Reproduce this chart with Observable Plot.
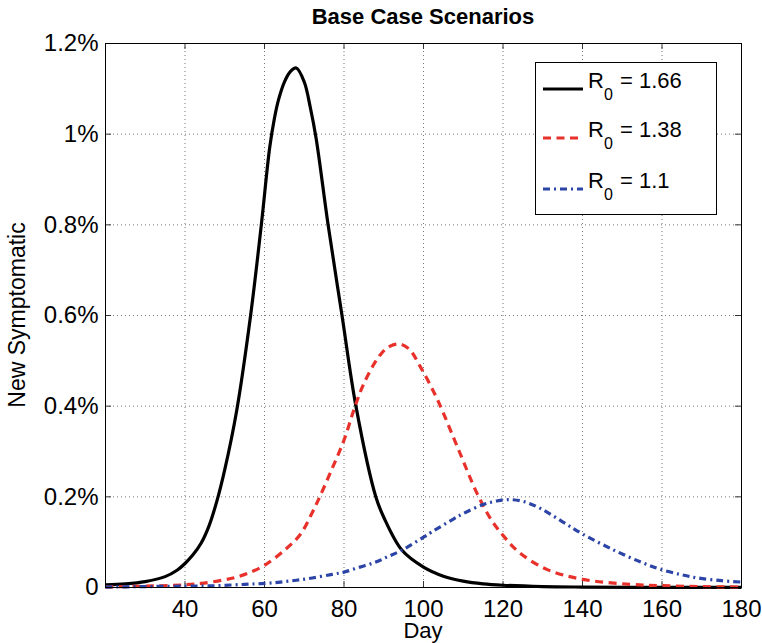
<!DOCTYPE html>
<html><head><meta charset="utf-8">
<script src="https://cdn.jsdelivr.net/npm/d3@7"></script>
<script src="https://cdn.jsdelivr.net/npm/@observablehq/plot@0.6"></script>
<style>body{margin:0;background:#fff} svg{font-family:"Liberation Sans",Arial,Helvetica,sans-serif}</style>
</head><body><div id="chart"></div><script>
const title = "Base Case Scenarios";
const xLabel = "Day";
const yLabel = "New Symptomatic";
const seriesNames = ["1.66", "1.38", "1.1"];
const xTicks = [40, 60, 80, 100, 120, 140, 160, 180];
const yTicks = [0, 0.2, 0.4, 0.6, 0.8, 1, 1.2];
const yTickLabels = ["0", "0.2%", "0.4%", "0.6%", "0.8%", "1%", "1.2%"];

// R0 = 1.66 (percent of population, new symptomatic)
const daysA = [20, 25, 30, 35, 38, 40, 42, 44, 46, 48, 50, 53, 56.5, 59.2, 61.3, 62.5, 63.5, 65, 66.5, 68, 70, 71.5, 73, 76, 79.5, 83, 88, 90, 94.6, 100, 105, 110, 115, 120, 130, 140, 160, 180];
const valsA = [0.006, 0.008, 0.013, 0.024, 0.038, 0.053, 0.072, 0.097, 0.135, 0.19, 0.26, 0.39, 0.60, 0.80, 0.97, 1.035, 1.075, 1.115, 1.138, 1.146, 1.115, 1.06, 0.99, 0.80, 0.60, 0.40, 0.20, 0.155, 0.082, 0.045, 0.025, 0.014, 0.008, 0.005, 0.002, 0.001, 0.0003, 0.0001];
// R0 = 1.38
const daysB = [20, 30, 40, 44, 50, 53, 56, 60, 65, 69, 72, 74, 77, 80, 82.5, 85, 89, 91.5, 94, 96.5, 99, 101.5, 104, 109, 113.5, 117, 120, 124, 131, 140, 152, 160, 170, 180];
const valsB = [0.001, 0.003, 0.006, 0.009, 0.017, 0.023, 0.032, 0.049, 0.082, 0.117, 0.165, 0.202, 0.262, 0.325, 0.392, 0.45, 0.512, 0.532, 0.537, 0.525, 0.49, 0.45, 0.405, 0.300, 0.207, 0.15, 0.115, 0.078, 0.040, 0.018, 0.007, 0.004, 0.002, 0.001];
// R0 = 1.1
const daysC = [20, 30, 40, 48, 55, 60, 64, 68, 72, 77, 80, 84, 88, 91, 94.5, 100, 102, 107.5, 110, 115, 118, 121, 125, 129.5, 135, 140, 148, 155, 160, 165, 169, 175, 180];
const valsC = [0.001, 0.002, 0.003, 0.004, 0.007, 0.009, 0.012, 0.016, 0.021, 0.029, 0.034, 0.045, 0.056, 0.068, 0.082, 0.111, 0.122, 0.151, 0.163, 0.183, 0.19, 0.194, 0.19, 0.174, 0.145, 0.118, 0.082, 0.055, 0.039, 0.028, 0.021, 0.015, 0.012];

const rows = [
  ...daysA.map((d, i) => ({series: seriesNames[0], day: d, value: valsA[i]})),
  ...daysB.map((d, i) => ({series: seriesNames[1], day: d, value: valsB[i]})),
  ...daysC.map((d, i) => ({series: seriesNames[2], day: d, value: valsC[i]}))
];

const styles = [
  {stroke: "#000000", dash: null, width: 3.2},
  {stroke: "#e8312b", dash: "8,5.5", width: 3.2},
  {stroke: "#2b44a6", dash: "7,4,2,4", width: 3.2}
];

const W = 762, H = 643, mL = 105, mR = 21, mT = 43, mB = 56;
const pw = W - mL - mR, ph = H - mT - mB;
const gridStyle = {stroke: "#777", strokeOpacity: 1, strokeDasharray: "1,3", strokeWidth: 1};

const plot = Plot.plot({
  width: W, height: H,
  marginLeft: mL, marginRight: mR, marginTop: mT, marginBottom: mB,
  style: {fontFamily: '"Liberation Sans", Arial, sans-serif', fontSize: "24px", color: "#000", background: "#fff"},
  x: {domain: [20, 180], label: null},
  y: {domain: [0, 1.2], label: null},
  marks: [
    Plot.gridX(xTicks, gridStyle),
    Plot.gridY(yTicks, gridStyle),
    Plot.tickX(xTicks, {x: d => d, insetTop: ph - 6, stroke: "#333"}),
    Plot.tickX(xTicks, {x: d => d, insetBottom: ph - 6, stroke: "#333"}),
    Plot.tickY(yTicks, {y: d => d, insetRight: pw - 6, stroke: "#333"}),
    Plot.tickY(yTicks, {y: d => d, insetLeft: pw - 6, stroke: "#333"}),
    ...seriesNames.map((s, i) => Plot.line(rows.filter(r => r.series === s), {
      x: "day", y: "value", curve: "catmull-rom",
      stroke: styles[i].stroke, strokeWidth: styles[i].width,
      strokeDasharray: styles[i].dash, strokeLinejoin: "round", strokeLinecap: "butt"
    })),
    Plot.frame({stroke: "#000", strokeWidth: 1}),
    Plot.axisX(xTicks, {tickSize: 0, tickPadding: 12, fontSize: 24, label: null}),
    Plot.axisY(yTicks, {tickSize: 0, tickPadding: 7, fontSize: 24, label: null,
      tickFormat: d => yTickLabels[yTicks.indexOf(d)]})
  ]
});

const svg = d3.select(plot);
const font = '"Liberation Sans", Arial, sans-serif';
svg.append("text").attr("x", mL + pw / 2).attr("y", 24).attr("text-anchor", "middle")
  .attr("font-size", 22).attr("font-weight", "bold").attr("font-family", font).attr("fill", "#000").text(title);
svg.append("text").attr("x", mL + pw / 2).attr("y", 638).attr("text-anchor", "middle")
  .attr("font-size", 22).attr("font-family", font).attr("fill", "#000").text(xLabel);
svg.append("text").attr("transform", `translate(25,${mT + ph / 2}) rotate(-90)`).attr("text-anchor", "middle")
  .attr("font-size", 23).attr("font-family", font).attr("fill", "#000").text(yLabel);

// legend
const lg = svg.append("g").attr("text-anchor", "start");
lg.append("rect").attr("x", 535.5).attr("y", 62.5).attr("width", 181).attr("height", 152)
  .attr("fill", "#fff").attr("stroke", "#000").attr("stroke-width", 1);
const rowY = [89, 138, 189];
seriesNames.forEach((s, i) => {
  lg.append("line").attr("x1", 543).attr("x2", 583).attr("y1", rowY[i]).attr("y2", rowY[i])
    .attr("stroke", styles[i].stroke).attr("stroke-width", styles[i].width)
    .attr("stroke-dasharray", styles[i].dash);
  const t = lg.append("text").attr("x", 588).attr("y", rowY[i] - 1).attr("font-size", 22)
    .attr("text-anchor", "start").attr("font-family", font).attr("fill", "#000");
  t.append("tspan").text("R");
  t.append("tspan").attr("font-size", 16).attr("dy", 12).text("0");
  t.append("tspan").attr("x", 620).attr("dy", -12).text("= " + s);
});

document.getElementById("chart").append(plot);
</script></body></html>
